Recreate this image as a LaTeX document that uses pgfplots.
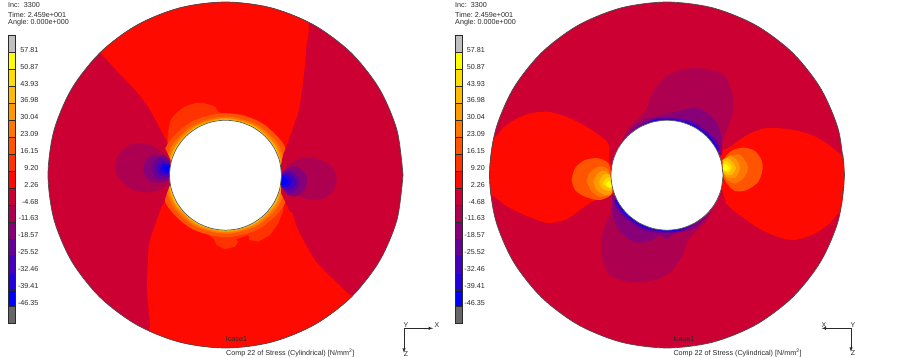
\documentclass[border=0pt]{standalone}
\usepackage{pgfplots}
\usepackage{pgfplotstable}
\pgfplotsset{compat=1.18}
\usepackage{fontspec}
\setmainfont{Liberation Sans}
\definecolor{cA}{HTML}{C0C0C0}
\definecolor{c1}{HTML}{FFFF00}
\definecolor{c2}{HTML}{FFDD00}
\definecolor{c3}{HTML}{FFBB00}
\definecolor{c4}{HTML}{FF9900}
\definecolor{c5}{HTML}{FF7700}
\definecolor{c6}{HTML}{FF5500}
\definecolor{c7}{HTML}{FF3300}
\definecolor{c8}{HTML}{FF0A00}
\definecolor{c9}{HTML}{CC0033}
\definecolor{c10}{HTML}{AD0050}
\definecolor{c11}{HTML}{880077}
\definecolor{c12}{HTML}{660099}
\definecolor{c13}{HTML}{4400BB}
\definecolor{c14}{HTML}{2200DD}
\definecolor{c15}{HTML}{0000FF}
\definecolor{cB}{HTML}{666666}
\definecolor{ink}{HTML}{2A2A2A}
\newcommand\poly[2]{\addplot[fill=#1,draw=none,forget plot] coordinates {#2};}
\newcommand\spoly[2]{\addplot[fill=#1,draw=none,smooth,forget plot] coordinates {#2};}
\newcommand\seg[5]{\addplot[fill=#5,draw=ink,line width=0.5pt,forget plot] coordinates {(#1,#3) (#2,#3) (#2,#4) (#1,#4) (#1,#3)};}
\newcommand\cbar[2]{%
\seg{#1}{#2}{35}{52.7}{cA}\seg{#1}{#2}{52.7}{69.3}{c1}\seg{#1}{#2}{69.3}{86.7}{c2}\seg{#1}{#2}{86.7}{103.7}{c3}%
\seg{#1}{#2}{103.7}{120.7}{c4}\seg{#1}{#2}{120.7}{137}{c5}\seg{#1}{#2}{137}{154.3}{c6}\seg{#1}{#2}{154.3}{171.3}{c7}%
\seg{#1}{#2}{171.3}{188.3}{c8}\seg{#1}{#2}{188.3}{205}{c9}\seg{#1}{#2}{205}{222.3}{c10}\seg{#1}{#2}{222.3}{239.3}{c11}%
\seg{#1}{#2}{239.3}{255.7}{c12}\seg{#1}{#2}{255.7}{273}{c13}\seg{#1}{#2}{273}{290}{c14}\seg{#1}{#2}{290}{306.7}{c15}%
\seg{#1}{#2}{306.7}{323.3}{cB}}
\newcommand\cblabels[1]{%
\foreach \v/\y in {57.81/50,50.87/66.7,43.93/83.6,36.98/100.5,30.04/117.3,23.09/134.2,16.15/151,9.20/167.9,2.26/184.8,-4.68/201.6,-11.63/218.5,-18.57/235.3,-25.52/252.2,-32.46/269,-39.41/285.9,-46.35/302.7}{%
\edef\tmp{\noexpand\node[anchor=east,inner sep=0pt,text=ink,font=\noexpand\fontsize{7.2}{8}\noexpand\selectfont] at (axis cs:#1,\y) {\v};}\tmp}}
\newcommand\head[1]{%
\node[anchor=west,inner sep=0pt,text=ink,font=\fontsize{7.2}{8}\selectfont] at (axis cs:#1,5.5) {Inc:\ \ 3300};
\node[anchor=west,inner sep=0pt,text=ink,font=\fontsize{7.2}{8}\selectfont] at (axis cs:#1,14.5) {Time:\ 2.459e+001};
\node[anchor=west,inner sep=0pt,text=ink,font=\fontsize{7.2}{8}\selectfont] at (axis cs:#1,23) {Angle:\ 0.000e+000};}
\pgfplotstableread{
x y
403 175
397 130.2
379.2 88.5
351 52.7
314.3 25.2
271.5 7.9
225.5 2
179.5 7.9
136.7 25.2
100 52.7
71.8 88.5
54 130.2
48 175
54 219.8
71.8 261.5
100 297.3
136.7 324.8
179.5 342.1
225.5 348
271.5 342.1
314.3 324.8
351 297.3
379.2 261.5
397 219.8
403 175
}\discT
\pgfplotstableread{
x y
281.5 175.2
279.6 161
274 147.7
265.1 136.3
253.5 127.6
240 122.1
225.5 120.2
211 122.1
197.5 127.6
185.9 136.3
177 147.7
171.4 161
169.5 175.2
171.4 189.4
177 202.7
185.9 214.1
197.5 222.8
211 228.3
225.5 230.2
240 228.3
253.5 222.8
265.1 214.1
274 202.7
279.6 189.4
281.5 175.2
}\holeT
\begin{document}
\begin{tikzpicture}
\begin{axis}[scale only axis,width=903pt,height=358pt,xmin=0,xmax=903,ymin=0,ymax=358,y dir=reverse,axis lines=none,clip=false]
\addplot[fill=white,draw=none,forget plot] coordinates {(0,0) (903,0) (903,358) (0,358) (0,0)};
% ---------- left panel
\addplot[fill=c9,draw=none,smooth,forget plot] table[x=x,y=y] {\discT};
\begin{scope}
\clip (axis cs:225.5,175) ellipse [x radius=177.5,y radius=173];
\spoly{c8}{(90,45) (100,52.7) (118,72) (135,90) (150,110) (167,142) (172,150) (225,175) (283,150) (297,117) (302,90) (306,50) (303,15) (225,-5) (90,-5)}
\spoly{c8}{(163,203) (150,240) (148,260) (147,290) (150,326) (150,355) (360,355) (360,300) (350,295) (332,278) (315,260) (299,232) (283,200) (225,175)}
\end{scope}
\spoly{c7}{(168.3,156.7) (167.7,136.7) (171.7,118.3) (185,106.7) (200,102.7) (215,106.7) (220,112.7) (243.3,115) (265,125) (276.7,138.3) (285,151.7) (283.3,165)}
\poly{c7}{(195,225) (213.3,238.3) (216.7,245) (225,249.3) (235,246.7) (238.3,241.7) (236,239.3) (248.3,235) (249.3,240) (258.3,241.7) (270,235) (278.3,223.3) (283.3,210) (283.3,196.7) (225,175)}
\spoly{c6}{(292.5,175.2) (283.5,144.2) (259,121.5) (225.5,113.2) (192,121.5) (167.5,144.2) (158.5,175.2) (167.5,206.2) (192,228.9) (225.5,237.2) (259,228.9) (283.5,206.2) (292.5,175.2)}
\spoly{c5}{(287.5,175.2) (279.2,145.95) (256.5,124.5) (225.5,116.7) (194.5,124.5) (171.8,145.95) (163.5,175.2) (171.8,204.45) (194.5,225.9) (225.5,233.7) (256.5,225.9) (279.2,204.45) (287.5,175.2)}
\spoly{c4}{(284.5,175.2) (276.6,146.7) (255,125.8) (225.5,118.2) (196,125.8) (174.4,146.7) (166.5,175.2) (174.4,203.7) (196,224.6) (225.5,232.2) (255,224.6) (276.6,203.7) (284.5,175.2)}
\spoly{c3}{(283.2,175.2) (275.5,147.2) (254.4,126.7) (225.5,119.2) (196.7,126.7) (175.5,147.2) (167.8,175.2) (175.5,203.2) (196.7,223.7) (225.5,231.2) (254.4,223.7) (275.5,203.2) (283.2,175.2)}
\spoly{c2}{(282.3,175.2) (274.7,147.5) (253.9,127.1) (225.5,119.7) (197.1,127.1) (176.3,147.5) (168.7,175.2) (176.3,202.9) (197.1,223.3) (225.5,230.7) (253.9,223.3) (274.7,202.9) (282.3,175.2)}
% side wedges
\poly{c9}{(158,135) (165,148) (170.5,160) (172,175) (170.5,184) (168,190) (163,205) (150,205) (150,135)}
\poly{c9}{(297,117) (287,145) (283,155) (281,165) (281.5,180) (281,193) (290,212) (300,212) (310,170) (310,117)}
% left lobe
\spoly{c10}{(115,168.3) (118.3,155) (128.3,145.7) (141.7,143.3) (153.3,146) (163.3,153.3) (170,161.7) (170,178.3) (163.3,188.3) (150,192.3) (133.3,190) (120,180) (115,168.3)}
\spoly{c11}{(143.3,168.3) (146,160) (153.3,155) (161.7,155) (169.3,160) (169.3,178.3) (161.7,182.3) (151.7,181.7) (145,175) (143.3,168.3)}
\spoly{c12}{(151.7,168.3) (154,161.7) (160,157.7) (169.3,161) (169.3,176.7) (160,179) (154,175) (151.7,168.3)}
\spoly{c13}{(156.7,168.3) (159.3,162.3) (165,161) (169.3,163.3) (169.3,174.3) (163.3,175.7) (158.3,173.3) (156.7,168.3)}
\spoly{c14}{(160,168.3) (162.7,164.3) (169.3,165) (169.3,173.3) (162.7,172.3) (160,168.3)}
\spoly{c15}{(164,168.5) (167,165.5) (171,166) (171,172) (167,171.5) (164,168.5)}
% right lobe
\spoly{c10}{(281.7,173.3) (290,163.3) (303.3,157.7) (318.3,159) (331.7,166.7) (336.7,180) (331.7,193.3) (318.3,200) (303.3,198.3) (291.7,191.7) (281.7,185)}
\spoly{c11}{(281.7,173.3) (288.3,167.7) (296.7,166.7) (305,173.3) (307.3,181.7) (303.3,191.7) (295,196.7) (286.7,194.3) (281.7,186.7)}
\spoly{c12}{(281.7,173.3) (288.3,170) (295,173.3) (300,181.7) (295,191.7) (288.3,193.3) (281.7,186.7)}
\spoly{c13}{(281.7,175) (288.3,173.3) (293.3,176.7) (296.7,181.7) (293.3,188.3) (286.7,190) (281.7,186.7)}
\spoly{c14}{(281.7,175.7) (287.7,175.7) (291.7,181.7) (288.3,186.7) (281.7,186.7)}
\spoly{c15}{(281,177.3) (285.7,178.3) (287.7,181.7) (285.7,185) (281,185)}
\addplot[draw=black!70,line width=0.7pt,smooth,forget plot] table[x=x,y=y] {\discT};
\addplot[fill=white,draw=black!65,line width=0.7pt,smooth,forget plot] table[x=x,y=y] {\holeT};
% ---------- right panel
\addplot[fill=c9,draw=none,smooth,forget plot] table[x expr=\thisrow{x}+441.5,y=y] {\discT};
\begin{scope}
\clip (axis cs:667,175) ellipse [x radius=177.5,y radius=173];
\spoly{c8}{(485,137) (495,137) (505,126) (520,117) (535,112.5) (550,112) (567,117) (587,127) (608,143) (609,160) (615,175) (612,193) (590,203) (567,219) (550,223) (540,221) (520,213) (505,205) (491.7,195) (485,195)}
\spoly{c8}{(726,203) (733,210) (755,226) (775,236) (794,240) (814,234) (829,224) (839,213) (850,213) (850,155) (842,155) (829,145) (814,136) (794,130) (767,128) (747,135) (730,147) (722,152) (718,175)}
\end{scope}
% upper lobe
\spoly{c10}{(618,150) (627,130) (640,117) (647,108) (652,94) (663,79) (677,71) (695,68) (712,70) (725,76) (732,92) (733,110) (729,125) (723,140) (720,155)}
\spoly{c11}{(621,148) (630,130) (643,120) (663,115) (683,110) (697,108) (710,115) (718,125) (722,140) (722,155)}
\spoly{c12}{(624,146) (633,131) (650,120) (667,117.5) (690,120) (707,131) (717,141) (720,150)}
\spoly{c13}{(626,145) (638,130) (650,121) (667,118.5) (690,122) (707,133) (716,143) (719,150)}
\spoly{c14}{(630,142) (650,121.8) (667,119) (690,123.5) (707,134.5) (716,145) (719,151)}
\spoly{c15}{(650,122.4) (667,119.6) (690,124.5) (707,135.5) (717,148)}
% lower lobe
\spoly{c10}{(716,200.4) (707,220.4) (694,233.4) (687,242.4) (682,256.4) (671,271.4) (657,279.4) (639,282.4) (622,280.4) (609,274.4) (602,258.4) (601,240.4) (605,225.4) (611,210.4) (614,195.4)}
\spoly{c11}{(713,202.4) (704,220.4) (691,230.4) (675,233) (667,239) (660,235.4) (651,240.4) (637,242.4) (624,235.4) (616,225.4) (612,210.4) (612,195.4)}
\spoly{c12}{(710,204.4) (701,219.4) (684,230.4) (667,232.9) (644,230.4) (627,219.4) (617,209.4) (614,200.4)}
\spoly{c13}{(708,205.4) (696,220.4) (684,229.4) (667,231.9) (644,228.4) (627,217.4) (618,207.4) (615,200.4)}
\spoly{c14}{(704,208.4) (684,228.6) (667,231.4) (644,226.9) (627,215.9) (618,205.4) (615,199.4)}
\spoly{c15}{(684,228) (667,230.8) (644,225.9) (627,214.9) (617,202.4)}
% left lobe rings
\spoly{c6}{(571.7,180) (575,168.3) (585,160) (598.3,158.3) (608.3,163.3) (611.7,176.7) (612.3,193.3) (600,200) (585,196.7) (575,190) (571.7,180)}
\spoly{c5}{(586.7,181.7) (589.3,173.3) (598.3,166.7) (608.3,170) (612,193) (600,196.7) (591.7,191.7) (586.7,181.7)}
\spoly{c4}{(593.3,181.7) (598.3,172.7) (606.7,171.7) (612,191.7) (605,195) (596.7,190) (593.3,181.7)}
\spoly{c3}{(599,181.7) (603.3,175) (610,175) (612,190) (605,190) (601,187.3) (599,181.7)}
\spoly{c2}{(602.7,183.3) (606.7,178.3) (610.7,178.3) (612,188.3) (606.7,187.3) (602.7,183.3)}
\spoly{c1}{(606,184) (609.3,181) (612,186.7) (608.3,186.7) (606,184)}
% right lobe rings
\spoly{c6}{(723.3,160) (730,151.7) (741.7,147.7) (753.3,150) (760.7,158.3) (762.7,168.3) (758.3,181.7) (746.7,190) (735,191) (726.7,183.3) (723.3,176.7)}
\spoly{c5}{(723.3,160) (731.7,155) (740,155) (746.7,163.3) (747.7,170) (743.3,178.3) (735,183.3) (726.7,180) (723.3,175)}
\spoly{c4}{(722.7,160) (730,156) (736.7,160) (740,168.3) (736,176.7) (728.3,178.3) (723.3,173.3)}
\spoly{c3}{(722.7,160) (728.3,158.3) (733.3,163.3) (736,168.3) (731.7,174.3) (726.7,175) (723.3,172.7)}
\spoly{c2}{(722.7,161) (727.7,161.7) (731.7,167.3) (728.3,172.7) (723.3,170.7)}
\spoly{c1}{(722.7,163.3) (726.7,165) (729.3,168.3) (726,170.7) (722.7,170)}
\addplot[draw=black!70,line width=0.7pt,smooth,forget plot] table[x expr=\thisrow{x}+441.5,y=y] {\discT};
\addplot[fill=white,draw=black!65,line width=0.7pt,smooth,forget plot] table[x expr=\thisrow{x}+441.5,y=y] {\holeT};
% ---------- colour bars and text
\cbar{8.5}{15.5}
\cbar{455}{462}
\cblabels{38.7}
\cblabels{485}
\head{8}
\head{455}
\node[anchor=west,inner sep=0pt,text=ink,font=\fontsize{7.2}{8}\selectfont] at (axis cs:226,339) {lcase1};
\node[anchor=west,inner sep=0pt,text=ink,font=\fontsize{7.2}{8}\selectfont] at (axis cs:226,353) {Comp 22 of Stress (Cylindrical) [N/mm\textsuperscript{2}]};
\node[anchor=west,inner sep=0pt,text=ink,font=\fontsize{7.2}{8}\selectfont] at (axis cs:673.3,339) {lcase1};
\node[anchor=west,inner sep=0pt,text=ink,font=\fontsize{7.2}{8}\selectfont] at (axis cs:673.3,353) {Comp 22 of Stress (Cylindrical) [N/mm\textsuperscript{2}]};
% triads
\addplot[ink,line width=0.5pt,-latex,forget plot] coordinates {(404,328.3) (433,328.3)};
\addplot[ink,line width=0.5pt,-latex,forget plot] coordinates {(404,328.3) (404,352.7)};
\addplot[ink,line width=0.5pt,-latex,forget plot] coordinates {(851,328.3) (821.7,328.3)};
\addplot[ink,line width=0.5pt,-latex,forget plot] coordinates {(851,328.3) (851,351.7)};
\node[inner sep=0pt,text=ink,font=\fontsize{7}{8}\selectfont] at (axis cs:437,325.5) {X};
\node[inner sep=0pt,text=ink,font=\fontsize{7}{8}\selectfont] at (axis cs:406,325) {Y};
\node[inner sep=0pt,text=ink,font=\fontsize{7}{8}\selectfont] at (axis cs:406,354.5) {Z};
\node[inner sep=0pt,text=ink,font=\fontsize{7}{8}\selectfont] at (axis cs:824,325) {X};
\node[inner sep=0pt,text=ink,font=\fontsize{7}{8}\selectfont] at (axis cs:853,325) {Y};
\node[inner sep=0pt,text=ink,font=\fontsize{7}{8}\selectfont] at (axis cs:853,353.5) {Z};
\end{axis}
\end{tikzpicture}
\end{document}
